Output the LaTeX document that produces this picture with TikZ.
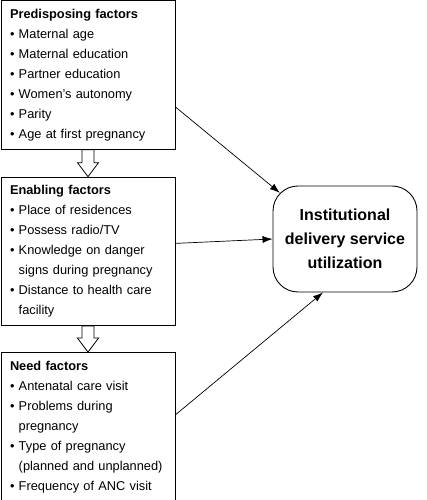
\documentclass[tikz,border=0pt]{standalone}
\usepackage{fontspec}
\setmainfont{Liberation Sans}
\usetikzlibrary{positioning,calc,arrows.meta}

\newcommand{\itm}{\textbullet\ }
\newcommand{\hang}{\phantom{\textbullet\ }}

\begin{document}
\begin{tikzpicture}[x=1pt,y=1pt,
        factor/.style={draw, line width=0.9pt, text width=156pt, inner xsep=9pt, inner ysep=0pt,
            minimum height=148.5pt, align=left, font=\fontsize{12.8}{20}\selectfont},
        outcome/.style={draw, line width=0.9pt, rounded corners=25pt, minimum width=144pt,
            minimum height=106pt, align=center, font=\fontsize{16}{24}\selectfont\bfseries},
        link/.style={line width=0.7pt, -{Latex[length=10pt,width=7pt]}}]
            \useasboundingbox (0,0) rectangle (426,500);

            \node[factor] (pre) at (88,425) {\textbf{Predisposing factors}\\
                \itm Maternal age\\ \itm Maternal education\\ \itm Partner education\\
                \itm Women’s autonomy\\ \itm Parity\\ \itm Age at first pregnancy};
            \node[factor, below=27pt of pre] (ena) {\textbf{Enabling factors}\\
                \itm Place of residences\\ \itm Possess radio/TV\\ \itm Knowledge on danger\\
                \hang signs during pregnancy\\ \itm Distance to health care\\ \hang facility};
            \node[factor, below=26pt of ena] (need) {\textbf{Need factors}\\
                \itm Antenatal care visit\\ \itm Problems during\\ \hang pregnancy\\
                \itm Type of pregnancy\\ \hang (planned and unplanned)\\ \itm Frequency of ANC visit};

            \node[outcome] (out) at (345,261) {Institutional\\delivery service\\utilization};

            % hollow arrows between the boxes
            \foreach \a/\b in {pre/ena, ena/need}
                \draw[line width=0.8pt] (\b.north) to ++(-10.5,14) to ++(4.5,0)
                    to ($(\a.south)+(-6,0)$) to ($(\a.south)+(6,0)$)
                    to ($(\b.north)+(6,14)$) to ++(4.5,0) -- cycle;

            \draw[link] ($(pre.east)+(0,-32)$) to ($(out.north west)+(7.3,-7.3)$);
            \draw[link] ($(ena.east)+(0,8)$) to (out.west);
            \draw[link] ($(need.east)+(0,12)$) to ($(out.south)+(-22,0)$);

        \end{tikzpicture}
\end{document}
